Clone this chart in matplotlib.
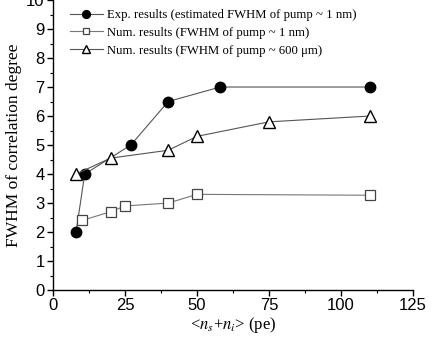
import numpy as np
import matplotlib
matplotlib.use('Agg')
import matplotlib.pyplot as plt
from matplotlib.ticker import MultipleLocator

# data
exp_x = [8, 11, 27, 40, 58, 110]
exp_y = [2.0, 4.0, 5.0, 6.5, 7.0, 7.0]
num1_x = [10, 20, 25, 40, 50, 110]
num1_y = [2.4, 2.7, 2.9, 3.0, 3.3, 3.27]
num2_x = [8, 20, 40, 50, 75, 110]
num2_y = [4.0, 4.55, 4.82, 5.3, 5.8, 6.0]

labels = ['Exp. results (estimated FWHM of pump ~ 1 nm)',
          'Num. results (FWHM of pump ~ 1 nm)',
          'Num. results (FWHM of pump ~ 600 \u03bcm)']

serif = 'Liberation Serif'
sans = 'Liberation Sans'
plt.rcParams['mathtext.fontset'] = 'stix'

fig = plt.figure(figsize=(4.36, 3.47), dpi=100)
ax = fig.add_axes([0.1216, 0.164, 0.8257, 0.836])

ax.plot(exp_x, exp_y, '-', color='#555555', lw=0.8, marker='o', ms=7.5,
        mfc='black', mec='black', label=labels[0])
ax.plot(num1_x, num1_y, '-', color='#777777', lw=0.8, marker='s', ms=6.5,
        mfc='white', mec='#444444', mew=0.9, label=labels[1])
ax.plot(num2_x, num2_y, '-', color='#555555', lw=0.8, marker='^', ms=8.5,
        mfc='white', mec='black', mew=1.0, label=labels[2])

ax.set_xlim(0, 125)
ax.set_ylim(0, 10)
ax.xaxis.set_major_locator(MultipleLocator(25))
ax.xaxis.set_minor_locator(MultipleLocator(12.5))
ax.yaxis.set_major_locator(MultipleLocator(1))
ax.yaxis.set_minor_locator(MultipleLocator(0.5))

for s in ['top', 'right']:
    ax.spines[s].set_visible(False)
for s in ['left', 'bottom']:
    ax.spines[s].set_linewidth(1.0)

ax.tick_params(which='major', direction='out', length=4, width=1.0, labelsize=12, pad=2)
ax.tick_params(which='minor', direction='out', length=2.5, width=0.8)
for t in ax.get_xticklabels() + ax.get_yticklabels():
    t.set_fontfamily(sans)

ax.set_ylabel('FWHM of correlation degree', fontfamily=serif, fontsize=12.5, labelpad=3)
ax.set_xlabel(r'<$\mathit{n}_{s}$+$\mathit{n}_{i}$> (pe)', fontfamily=serif, fontsize=12, labelpad=1)

leg = ax.legend(loc='upper left', bbox_to_anchor=(0.025, 0.995), frameon=False,
                prop={'family': serif, 'size': 9.2}, numpoints=1, markerscale=0.75,
                handlelength=2.6, handletextpad=0.3, labelspacing=0.45,
                borderaxespad=0.2)

fig.savefig('out.png', dpi=100)
